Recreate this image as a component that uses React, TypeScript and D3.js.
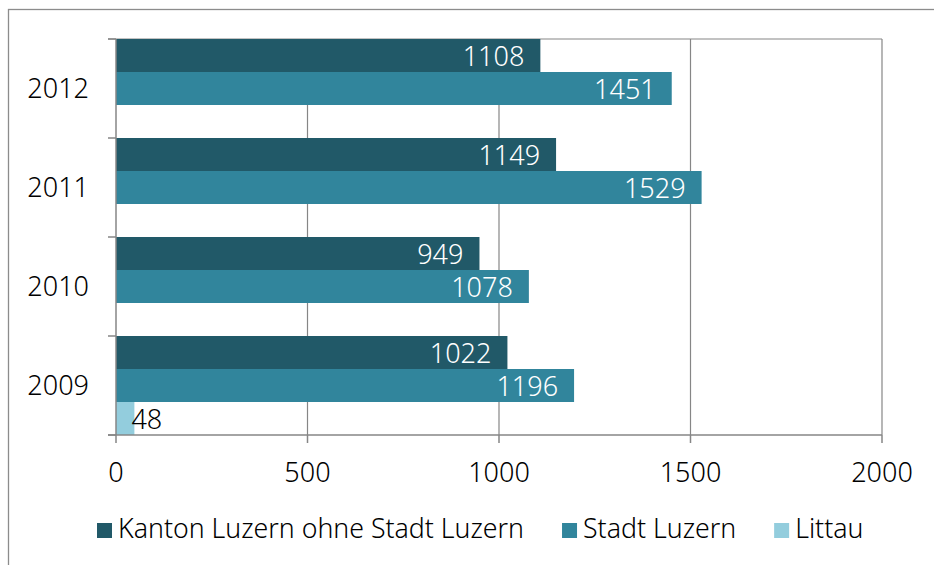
import React, { useEffect, useRef } from 'react';
import * as d3 from 'd3';

// Jahre (oben nach unten) und Werte pro Serie
const years = ['2012', '2011', '2010', '2009'];
const seriesNames = ['Kanton Luzern ohne Stadt Luzern', 'Stadt Luzern', 'Littau'];
const kantonValues = [1108, 1149, 949, 1022];
const stadtValues = [1451, 1529, 1078, 1196];
const littauValues: (number | null)[] = [null, null, null, 48];
const xTicks = [0, 500, 1000, 1500, 2000];

const colors = ['#215968', '#31859C', '#93CDDD'];
const labelColors = ['#ffffff', '#ffffff', '#000000'];

const App = () => {
  const ref = useRef<SVGSVGElement>(null);

  useEffect(() => {
    if (!ref.current) return;
    const svg = d3.select(ref.current);
    svg.selectAll('*').remove();

    const font = "'Noto Sans', sans-serif";
    const weight = 300;
    const left = 116, right = 882, top = 39, bottom = 435;

    const x = d3.scaleLinear().domain([0, 2000]).range([left, right]);
    const y = d3.scaleBand().domain(years).range([top, bottom]).padding(0);
    const ySub = d3.scaleBand().domain(seriesNames).range([0, y.bandwidth()]).padding(0);

    // Rahmen
    svg.append('rect')
      .attr('x', 8.5).attr('y', 9.5)
      .attr('width', 1000).attr('height', 1000)
      .attr('fill', 'white')
      .attr('stroke', '#8c8c8c').attr('stroke-width', 1.3);

    const grid = '#868686';
    // vertikale Gitterlinien
    svg.append('g').selectAll('line')
      .data(xTicks.slice(1))
      .enter().append('line')
      .attr('x1', d => x(d)).attr('x2', d => x(d))
      .attr('y1', top).attr('y2', bottom)
      .attr('stroke', grid).attr('stroke-width', 1.2);

    // obere Linie
    svg.append('line')
      .attr('x1', left - 8).attr('x2', right)
      .attr('y1', top).attr('y2', top)
      .attr('stroke', grid).attr('stroke-width', 1.2);

    // Balken
    const series = [kantonValues, stadtValues, littauValues];
    series.forEach((vals, si) => {
      const g = svg.append('g');
      const rows = years.map((yr, i) => ({ yr, v: vals[i] })).filter(d => d.v != null) as { yr: string; v: number }[];
      g.selectAll('rect')
        .data(rows)
        .enter().append('rect')
        .attr('x', x(0))
        .attr('y', d => (y(d.yr) as number) + (ySub(seriesNames[si]) as number))
        .attr('width', d => x(d.v) - x(0))
        .attr('height', ySub.bandwidth())
        .attr('fill', colors[si]);

      g.selectAll('text')
        .data(rows)
        .enter().append('text')
        .attr('x', d => (si === 2 ? x(d.v) - 3 : x(d.v) - 16))
        .attr('y', d => (y(d.yr) as number) + (ySub(seriesNames[si]) as number) + ySub.bandwidth() / 2 + 10)
        .attr('text-anchor', si === 2 ? 'start' : 'end')
        .attr('font-family', font).attr('font-weight', weight).attr('font-size', 27)
        .attr('fill', labelColors[si])
        .text(d => d.v);
    });

    // Achsen
    const axisColor = '#868686';
    svg.append('line')
      .attr('x1', left).attr('x2', left).attr('y1', top).attr('y2', bottom)
      .attr('stroke', axisColor).attr('stroke-width', 1.5);
    svg.append('line')
      .attr('x1', left - 8).attr('x2', right).attr('y1', bottom).attr('y2', bottom)
      .attr('stroke', axisColor).attr('stroke-width', 1.5);

    // Ticks links (Kategoriegrenzen)
    const bounds = years.map(yr => y(yr) as number).concat([bottom]);
    svg.append('g').selectAll('line')
      .data(bounds)
      .enter().append('line')
      .attr('x1', left - 8).attr('x2', left)
      .attr('y1', d => d).attr('y2', d => d)
      .attr('stroke', axisColor).attr('stroke-width', 1.5);

    // Ticks unten
    svg.append('g').selectAll('line')
      .data(xTicks)
      .enter().append('line')
      .attr('x1', d => x(d)).attr('x2', d => x(d))
      .attr('y1', bottom).attr('y2', bottom + 8)
      .attr('stroke', axisColor).attr('stroke-width', 1.5);

    svg.append('g').selectAll('text')
      .data(xTicks)
      .enter().append('text')
      .attr('x', d => x(d)).attr('y', 482)
      .attr('text-anchor', 'middle')
      .attr('font-family', font).attr('font-weight', weight).attr('font-size', 27)
      .attr('fill', '#000')
      .text(d => d);

    svg.append('g').selectAll('text')
      .data(years)
      .enter().append('text')
      .attr('x', 89)
      .attr('y', d => (y(d) as number) + y.bandwidth() / 2 + 9)
      .attr('text-anchor', 'end')
      .attr('font-family', font).attr('font-weight', weight).attr('font-size', 27)
      .attr('fill', '#000')
      .text(d => d);

    // Legende
    let lx = 97;
    seriesNames.forEach((name, i) => {
      svg.append('rect')
        .attr('x', lx).attr('y', 523)
        .attr('width', 15).attr('height', 15)
        .attr('fill', colors[i]);
      const t = svg.append('text')
        .attr('x', lx + 21).attr('y', 538)
        .attr('font-family', font).attr('font-weight', weight).attr('font-size', 26.7)
        .attr('fill', '#000')
        .text(name);
      const w = (t.node() as SVGTextElement).getComputedTextLength();
      lx = lx + 21 + w + 38;
    });
  }, []);

  return (
    <svg
      ref={ref}
      width={934}
      height={565}
      style={{ position: 'absolute', left: 0, top: 0, background: 'white' }}
    />
  );
};

export default App;
